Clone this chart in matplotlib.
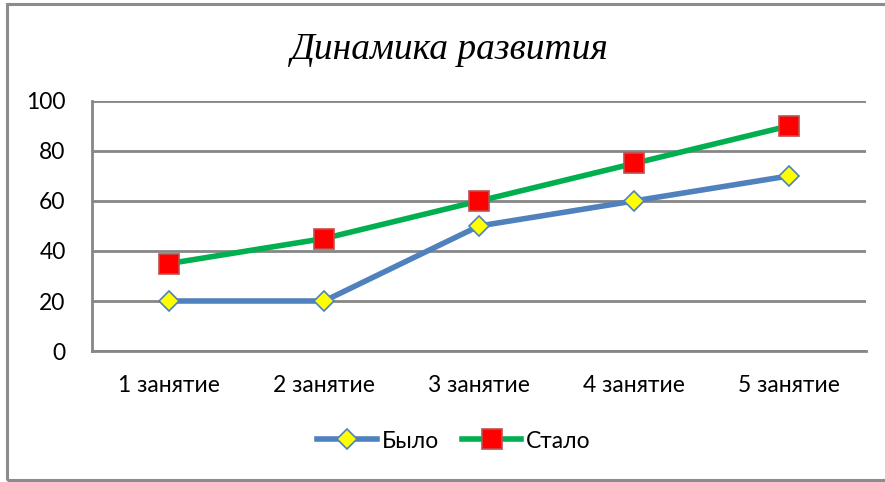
import matplotlib
matplotlib.use("Agg")
from matplotlib import pyplot as plt
from matplotlib.patches import Rectangle

categories = ["1 занятие", "2 занятие", "3 занятие", "4 занятие", "5 занятие"]
bylo = [20, 20, 50, 60, 70]
stalo = [35, 45, 60, 75, 90]
y_ticks = [0, 20, 40, 60, 80, 100]

plt.rcParams['font.family'] = ['Lato', 'DejaVu Sans']

fig = plt.figure(figsize=(8.85, 4.82), dpi=100)
ax = fig.add_axes([92 / 885, 1 - 351 / 482, 774 / 885, 250 / 482])

# outer chart frame
fig.patches.append(Rectangle((7 / 885, 2 / 482), 1.0, 476 / 482, transform=fig.transFigure,
                             fill=False, edgecolor='#8c8c8c', linewidth=2.2))

x = range(len(categories))
ax.plot(x, bylo, color='#4f81bd', linewidth=4, marker='D', markersize=10,
        markerfacecolor='#ffff00', markeredgecolor='#4f81bd', markeredgewidth=1.2,
        label='Было', zorder=3)
ax.plot(x, stalo, color='#00b050', linewidth=4, marker='s', markersize=14,
        markerfacecolor='#ff0000', markeredgecolor='#c0504d', markeredgewidth=1.2,
        label='Стало', zorder=4)

ax.set_xlim(-0.5, 4.5)
ax.set_ylim(0, 100)
ax.set_yticks(y_ticks)
ax.set_xticks(list(x))
ax.set_xticklabels(categories)
ax.yaxis.grid(True, color='#868686', linewidth=2)
ax.set_axisbelow(True)
for s in ['top', 'right']:
    ax.spines[s].set_visible(False)
for s in ['left', 'bottom']:
    ax.spines[s].set_color('#868686')
    ax.spines[s].set_linewidth(2)
ax.tick_params(length=0, labelsize=16.5, colors='#000000')
ax.tick_params(axis='x', pad=17)
ax.tick_params(axis='y', pad=19)

fig.text(0.508, 1 - 50 / 482, 'Динамика развития', ha='center', va='center',
         fontsize=27, style='italic', family='Liberation Serif')

fig.legend(loc='center', bbox_to_anchor=(0.513, 1 - 441 / 482), ncol=2, frameon=False,
           fontsize=16.5, handlelength=2.6, handletextpad=0.2, columnspacing=1.0)

fig.savefig('out.png', dpi=100)
